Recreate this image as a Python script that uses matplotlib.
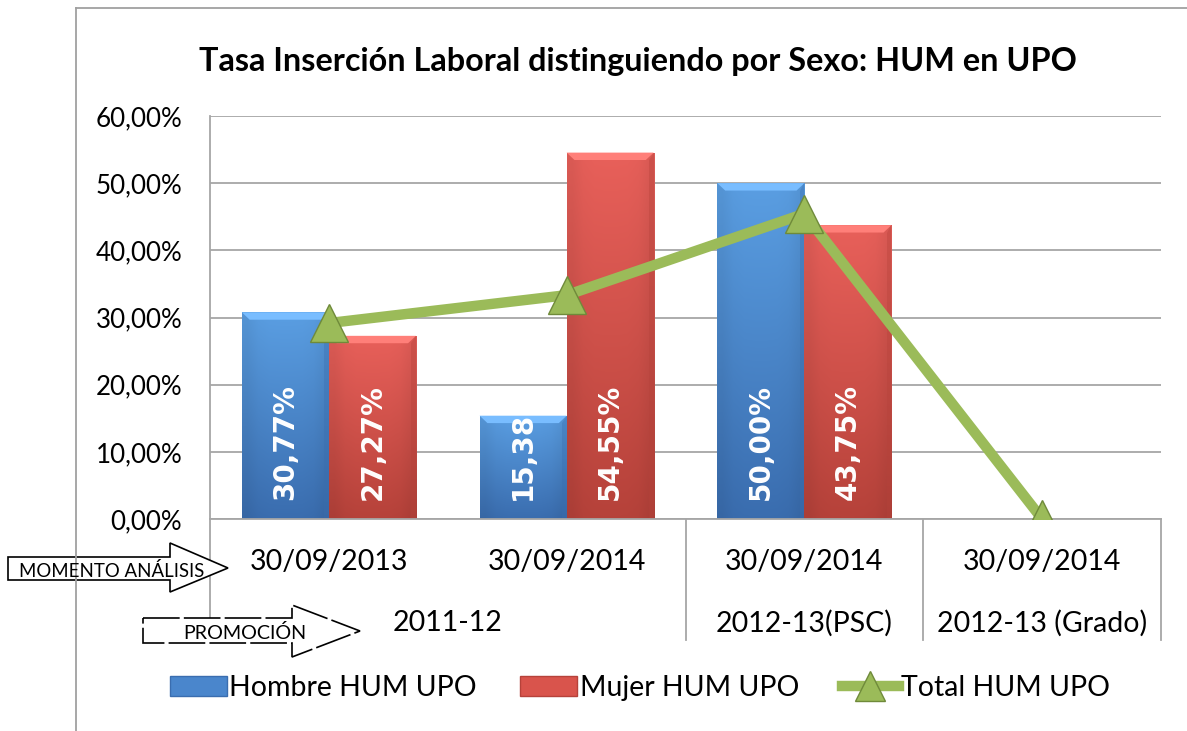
import numpy as np
import matplotlib
matplotlib.use("Agg")
import matplotlib.pyplot as plt
from matplotlib.patches import Polygon, Patch
from matplotlib.lines import Line2D
from matplotlib.colors import to_rgb
import matplotlib.transforms as mtransforms

# ---------------- data ----------------
title = "Tasa Inserción Laboral distinguiendo por Sexo: HUM en UPO"
momentos = ["30/09/2013", "30/09/2014", "30/09/2014", "30/09/2014"]
promociones = ["2011-12", "2012-13(PSC)", "2012-13 (Grado)"]
promocion_span = [(0, 1), (2, 2), (3, 3)]   # category index range of each promotion
hombre = [30.77, 15.38, 50.00, np.nan]
mujer = [27.27, 54.55, 43.75, np.nan]
total = [29.17, 33.33, 45.45, 0.0]
hombre_labels = ["30,77%", "15,38", "50,00%", ""]
mujer_labels = ["27,27%", "54,55%", "43,75%", ""]
yticks = [0, 10, 20, 30, 40, 50, 60]
series_names = ["Hombre HUM UPO", "Mujer HUM UPO", "Total HUM UPO"]

# ---------------- style ----------------
FONT = "Lato"
W, H = 1187, 731
fig = plt.figure(figsize=(W / 100, H / 100), dpi=100)
fig.patch.set_facecolor("white")

def px(x, y):
    return (x / W, 1 - y / H)

L, R, T, B = 210, 1161, 116, 519
ax = fig.add_axes([L / W, 1 - B / H, (R - L) / W, (B - T) / H])

grid_c = "#A6A6A6"
blue_top, blue_bot = to_rgb("#5A9EE2"), to_rgb("#3A6DAF")
red_top, red_bot = to_rgb("#E8605A"), to_rgb("#B6423A")
green = "#9BBB59"

x = np.arange(len(momentos))
bw = 0.366

def grad_bars(xs, vals, ctop, cbot):
    bars = ax.bar(xs, vals, width=bw, color=cbot, edgecolor="#7f7f7f", linewidth=0.6, zorder=2)
    for rect in bars:
        h = rect.get_height()
        if not np.isfinite(h) or h <= 0:
            continue
        x0, w = rect.get_x(), rect.get_width()
        n = 64
        t = np.linspace(0, 1, n)[:, None]          # 0 top -> 1 bottom
        img = np.zeros((n, 8, 3))
        for k in range(3):
            img[:, :, k] = ctop[k] * (1 - t) + cbot[k] * t
        side = np.linspace(-1, 1, 8)[None, :]
        img *= (1 - 0.06 * side ** 4)[:, :, None]
        im = ax.imshow(img, extent=[x0, x0 + w, 0, h], aspect="auto",
                       origin="upper", zorder=2.1, interpolation="bilinear")
        im.set_clip_path(rect)
        d = w * 0.09
        dy = 1.1
        hl = tuple(min(1, c + 0.12) for c in ctop)
        ax.add_patch(Polygon([(x0, h), (x0 + w, h), (x0 + w - d, h - dy), (x0 + d, h - dy)],
                             closed=True, facecolor=hl, edgecolor="none", zorder=2.2))
        ax.add_patch(Polygon([(x0 + w, h), (x0 + w, 0), (x0 + w - d * 0.6, 0), (x0 + w - d * 0.6, h - dy)],
                             closed=True, facecolor=cbot, alpha=0.35, edgecolor="none", zorder=2.2))
    return bars

grad_bars(x - bw / 2, hombre, blue_top, blue_bot)
grad_bars(x + bw / 2, mujer, red_top, red_bot)

# bar labels
for xi, lab in zip(x - bw / 2, hombre_labels):
    if lab:
        ax.text(xi, 2.8, lab, rotation=90, ha="center", va="bottom", color="white",
                fontsize=20, fontweight="bold", family="DejaVu Sans", zorder=4)
for xi, lab in zip(x + bw / 2, mujer_labels):
    if lab:
        ax.text(xi, 2.8, lab, rotation=90, ha="center", va="bottom", color="white",
                fontsize=20, fontweight="bold", family="DejaVu Sans", zorder=4)

# total line
ax.plot(x, total, color=green, lw=7.5, solid_capstyle="butt", zorder=5)
ax.plot(x, total, ls="none", marker="^", ms=28, mfc=green, mec="#6F8A3A", mew=1.0, zorder=6)

ax.set_xlim(-0.5, len(momentos) - 0.5)
ax.set_ylim(0, 60)
ax.set_yticks(yticks)
ax.set_yticklabels([f"{v:.2f}%".replace(".", ",") for v in yticks], family=FONT, fontsize=18.7)
ax.tick_params(axis="y", length=0, pad=20)
ax.set_xticks([])
for s in ["top", "right"]:
    ax.spines[s].set_visible(False)
for s in ["left", "bottom"]:
    ax.spines[s].set_color(grid_c)
    ax.spines[s].set_linewidth(1.3)
ax.yaxis.grid(True, color=grid_c, lw=1.3, zorder=0)
ax.set_axisbelow(True)

# category labels (two rows)
trans = mtransforms.blended_transform_factory(ax.transData, ax.transAxes)
for xi, lab in zip(x, momentos):
    ax.text(xi, -0.107, lab, transform=trans, ha="center", va="center",
            family=FONT, fontsize=20.5, clip_on=False)
for (a, b), lab in zip(promocion_span, promociones):
    ax.text((a + b) / 2, -0.258, lab, transform=trans, ha="center", va="center",
            family=FONT, fontsize=20.5, clip_on=False)
for a, b in promocion_span:
    ax.plot([b + 0.5, b + 0.5], [0, -0.30], transform=trans, color=grid_c, lw=1.3, clip_on=False)
ax.plot([-0.5, -0.5], [0, -0.30], transform=trans, color=grid_c, lw=1.3, clip_on=False)

# title
fig.text(638 / W, 1 - 61 / H, title, ha="center", va="center", family=FONT,
         fontsize=23.3, fontweight="bold")

# chart frame
fig.add_artist(Line2D([76 / W, 76 / W], [1 - 8 / H, 0], transform=fig.transFigure, color="#A0A0A0", lw=1.3))
fig.add_artist(Line2D([76 / W, 1], [1 - 8 / H, 1 - 8 / H], transform=fig.transFigure, color="#A0A0A0", lw=1.3))

# arrows
arr1 = [px(8, 557), px(170, 557), px(170, 543), px(228, 568), px(170, 592), px(170, 580), px(8, 580)]
fig.add_artist(Polygon(arr1, closed=True, transform=fig.transFigure, facecolor="white",
                       edgecolor="black", lw=1.2))
fig.text(*px(112, 571), "MOMENTO ANÁLISIS", ha="center", va="center", family=FONT, fontsize=13.4)
arr2 = [px(143, 618), px(292, 618), px(292, 605), px(360, 631), px(292, 657), px(292, 643), px(143, 643)]
fig.add_artist(Polygon(arr2, closed=True, transform=fig.transFigure, facecolor="white",
                       edgecolor="black", lw=1.2, ls=(0, (22, 2.5))))
fig.text(*px(245, 633), "PROMOCIÓN", ha="center", va="center", family=FONT, fontsize=14.2)

# legend
handles = [Patch(facecolor="#4A86CC", edgecolor="#3A6DAF"),
           Patch(facecolor="#D9544C", edgecolor="#B6423A"),
           Line2D([], [], color=green, lw=7.5, marker="^", ms=22, mfc=green, mec="#6F8A3A")]
leg = fig.legend(handles, series_names, loc="center", bbox_to_anchor=px(640, 688),
                 ncol=3, frameon=False, prop={"family": FONT, "size": 20.5},
                 handlelength=2.0, handletextpad=0.1, columnspacing=1.5)

fig.savefig("out.png", dpi=100, facecolor="white")
